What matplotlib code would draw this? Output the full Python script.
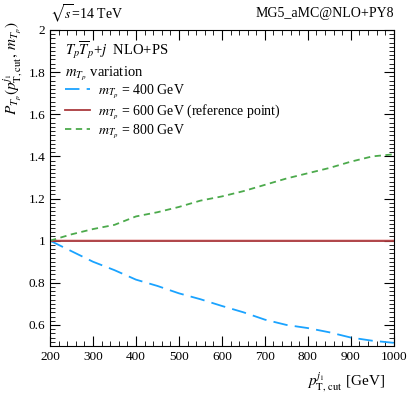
import matplotlib
matplotlib.use("Agg")
import matplotlib.pyplot as plt
from matplotlib.ticker import MultipleLocator

plt.rcParams['font.family'] = ['Liberation Serif', 'DejaVu Serif']
plt.rcParams['mathtext.fontset'] = 'stix'

# pT cut of the leading jet [GeV]
ptcut = [200, 250, 300, 350, 400, 450, 500, 550, 600, 650, 700, 750, 800, 850, 900, 950, 1000]

# ratios for each T_p mass, relative to m = 600 GeV
p_400 = [1.0, 0.95, 0.90, 0.86, 0.815, 0.785, 0.75, 0.722, 0.69, 0.66, 0.625, 0.60, 0.585, 0.565, 0.54, 0.525, 0.515]
p_600 = [1.0] * len(ptcut)
p_800 = [1.0, 1.03, 1.055, 1.075, 1.115, 1.135, 1.16, 1.19, 1.21, 1.235, 1.265, 1.295, 1.32, 1.345, 1.375, 1.40, 1.41]

labels = [r"$m_{T_p}$ = 400 GeV",
          r"$m_{T_p}$ = 600 GeV (reference point)",
          r"$m_{T_p}$ = 800 GeV"]

fig = plt.figure(figsize=(4.15, 3.93), dpi=100)
ax = fig.add_axes([0.1205, 0.1196, 0.8285, 0.8041])

ax.plot(ptcut, p_400, color='#1aa3ff', lw=1.3, dashes=(8, 4), label=labels[0])
ax.fill_between(ptcut, [v - 0.006 for v in p_600], [v + 0.006 for v in p_600],
                color='#e8a0a0', alpha=0.5, lw=0)
ax.plot(ptcut, p_600, color='#aa3a3e', lw=1.3, label=labels[1])
ax.plot(ptcut, p_800, color='#4caa4c', lw=1.3, dashes=(3.5, 2.5), label=labels[2])

ax.set_xlim(200, 1000)
ax.set_ylim(0.5, 2.0)
ax.xaxis.set_major_locator(MultipleLocator(100))
ax.xaxis.set_minor_locator(MultipleLocator(20))
ax.yaxis.set_major_locator(MultipleLocator(0.2))
ax.yaxis.set_minor_locator(MultipleLocator(0.02))
ax.set_yticks([0.6, 0.8, 1.0, 1.2, 1.4, 1.6, 1.8, 2.0])
ax.set_yticklabels(['0.6', '0.8', '1', '1.2', '1.4', '1.6', '1.8', '2'])
ax.tick_params(which='both', direction='in', top=True, right=True, labelsize=9.5)
ax.tick_params(which='major', length=7, width=0.8)
ax.tick_params(which='minor', length=3.5, width=0.6)
for s in ax.spines.values():
    s.set_linewidth(0.8)

ax.set_ylabel(r"$P_{T_p}(p^{j_1}_{\mathrm{T,cut}},\,m_{T_p})$", fontsize=11)
ax.yaxis.set_label_coords(-0.075, 0.88)
ax.set_xlabel(r"$p^{j_1}_{\mathrm{T,\,cut}}$ [GeV]", fontsize=11)
ax.xaxis.set_label_coords(0.86, -0.075)

fig.text(0.1205, 0.965, r"$\sqrt{s}$=14 TeV", fontsize=10, ha='left', va='center')
fig.text(0.949, 0.965, "MG5_aMC@NLO+PY8", fontsize=10, ha='right', va='center')

ax.text(0.045, 0.935, r"$T_p\overline{T}_p$+$j$  NLO+PS", transform=ax.transAxes,
        fontsize=10.5, va='center')
ax.text(0.045, 0.862, r"$m_{T_p}$ variation", transform=ax.transAxes,
        fontsize=10.5, va='center')
ax.legend(loc='upper left', bbox_to_anchor=(0.015, 0.865), frameon=False,
          fontsize=10, handlelength=1.8, handletextpad=0.6,
          labelspacing=0.15, borderaxespad=0.3)

fig.savefig("out.png", dpi=100)
